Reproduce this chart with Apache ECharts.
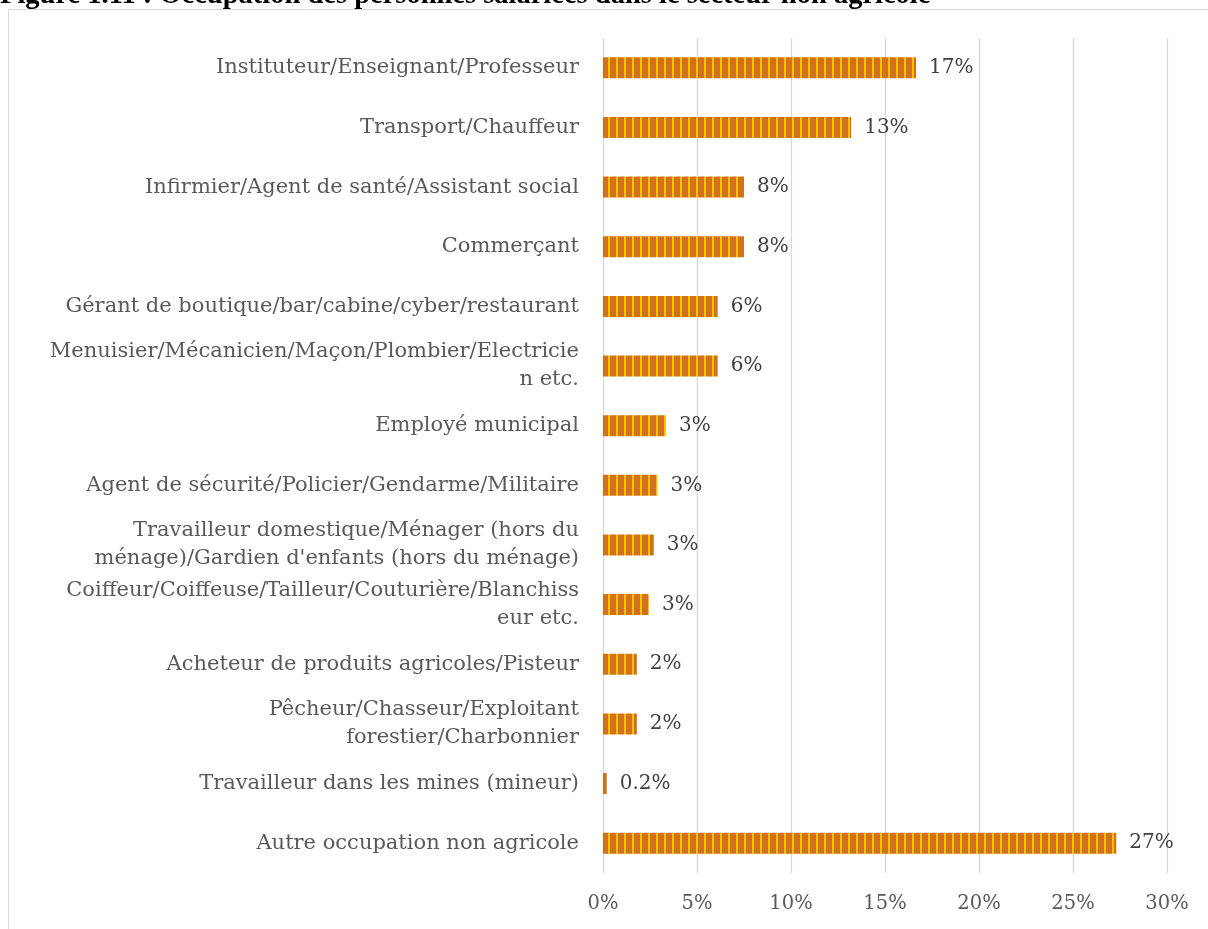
<!DOCTYPE html>
<html>
<head>
<meta charset="utf-8">
<script src="https://cdn.jsdelivr.net/npm/echarts@6/dist/echarts.min.js"></script>
<style>
html,body{margin:0;padding:0;background:#fff;}
#chart{width:1208px;height:929px;}
</style>
</head>
<body>
<div id="chart"></div>
<script>
const titleText = "Figure 1.11 : Occupation des personnes salariées dans le secteur non agricole";
const categories = [
  "Instituteur/Enseignant/Professeur",
  "Transport/Chauffeur",
  "Infirmier/Agent de santé/Assistant social",
  "Commerçant",
  "Gérant de boutique/bar/cabine/cyber/restaurant",
  "Menuisier/Mécanicien/Maçon/Plombier/Electricie\nn etc.",
  "Employé municipal",
  "Agent de sécurité/Policier/Gendarme/Militaire",
  "Travailleur domestique/Ménager (hors du\nménage)/Gardien d'enfants (hors du ménage)",
  "Coiffeur/Coiffeuse/Tailleur/Couturière/Blanchiss\neur etc.",
  "Acheteur de produits agricoles/Pisteur",
  "Pêcheur/Chasseur/Exploitant\nforestier/Charbonnier",
  "Travailleur dans les mines (mineur)",
  "Autre occupation non agricole"
];
const values = [16.65, 13.2, 7.5, 7.5, 6.1, 6.1, 3.35, 2.9, 2.7, 2.45, 1.8, 1.8, 0.2, 27.3];
const valueLabels = ["17%", "13%", "8%", "8%", "6%", "6%", "3%", "3%", "3%", "3%", "2%", "2%", "0.2%", "27%"];

const pc = document.createElement('canvas');
pc.width = 8; pc.height = 4;
const ctx = pc.getContext('2d');
ctx.fillStyle = '#D2711C';
ctx.fillRect(0, 0, 8, 4);
ctx.fillStyle = '#FFC000';
ctx.fillRect(0, 0, 2, 4);

const FONT = 'DejaVu Serif';
const chart = echarts.init(document.getElementById('chart'));
chart.setOption({
  animation: false,
  backgroundColor: '#fff',
  title: {
    text: titleText,
    left: 0,
    top: -19,
    padding: 0,
    textStyle: {fontFamily: 'Liberation Serif', fontWeight: 'bold', fontSize: 28.5, color: '#000'}
  },
  graphic: [{
    type: 'rect',
    shape: {x: 8.5, y: 9.5, width: 1400, height: 1000},
    style: {fill: 'none', stroke: '#D9D9D9', lineWidth: 1},
    silent: true, z: -1
  }],
  grid: {left: 603, right: 41, top: 38, bottom: 56, containLabel: false},
  xAxis: {
    type: 'value', min: 0, max: 30, interval: 5,
    axisLine: {show: false}, axisTick: {show: false},
    splitLine: {lineStyle: {color: '#D9D9D9', width: 1.3}},
    axisLabel: {
      formatter: v => v + '%', margin: 21,
      fontFamily: FONT, fontSize: 19.5, color: '#595959'
    }
  },
  yAxis: {
    type: 'category', data: categories, inverse: true,
    axisLine: {show: false}, axisTick: {show: false},
    axisLabel: {
      margin: 24, fontFamily: FONT, fontSize: 21, color: '#595959',
      align: 'right', lineHeight: 28
    }
  },
  series: [{
    type: 'bar',
    data: values,
    barWidth: 21,
    itemStyle: {color: {image: pc, repeat: 'repeat'}},
    label: {
      show: true, position: 'right', distance: 13,
      formatter: p => valueLabels[p.dataIndex],
      fontFamily: FONT, fontSize: 20, color: '#404040'
    }
  }]
});
</script>
</body>
</html>
